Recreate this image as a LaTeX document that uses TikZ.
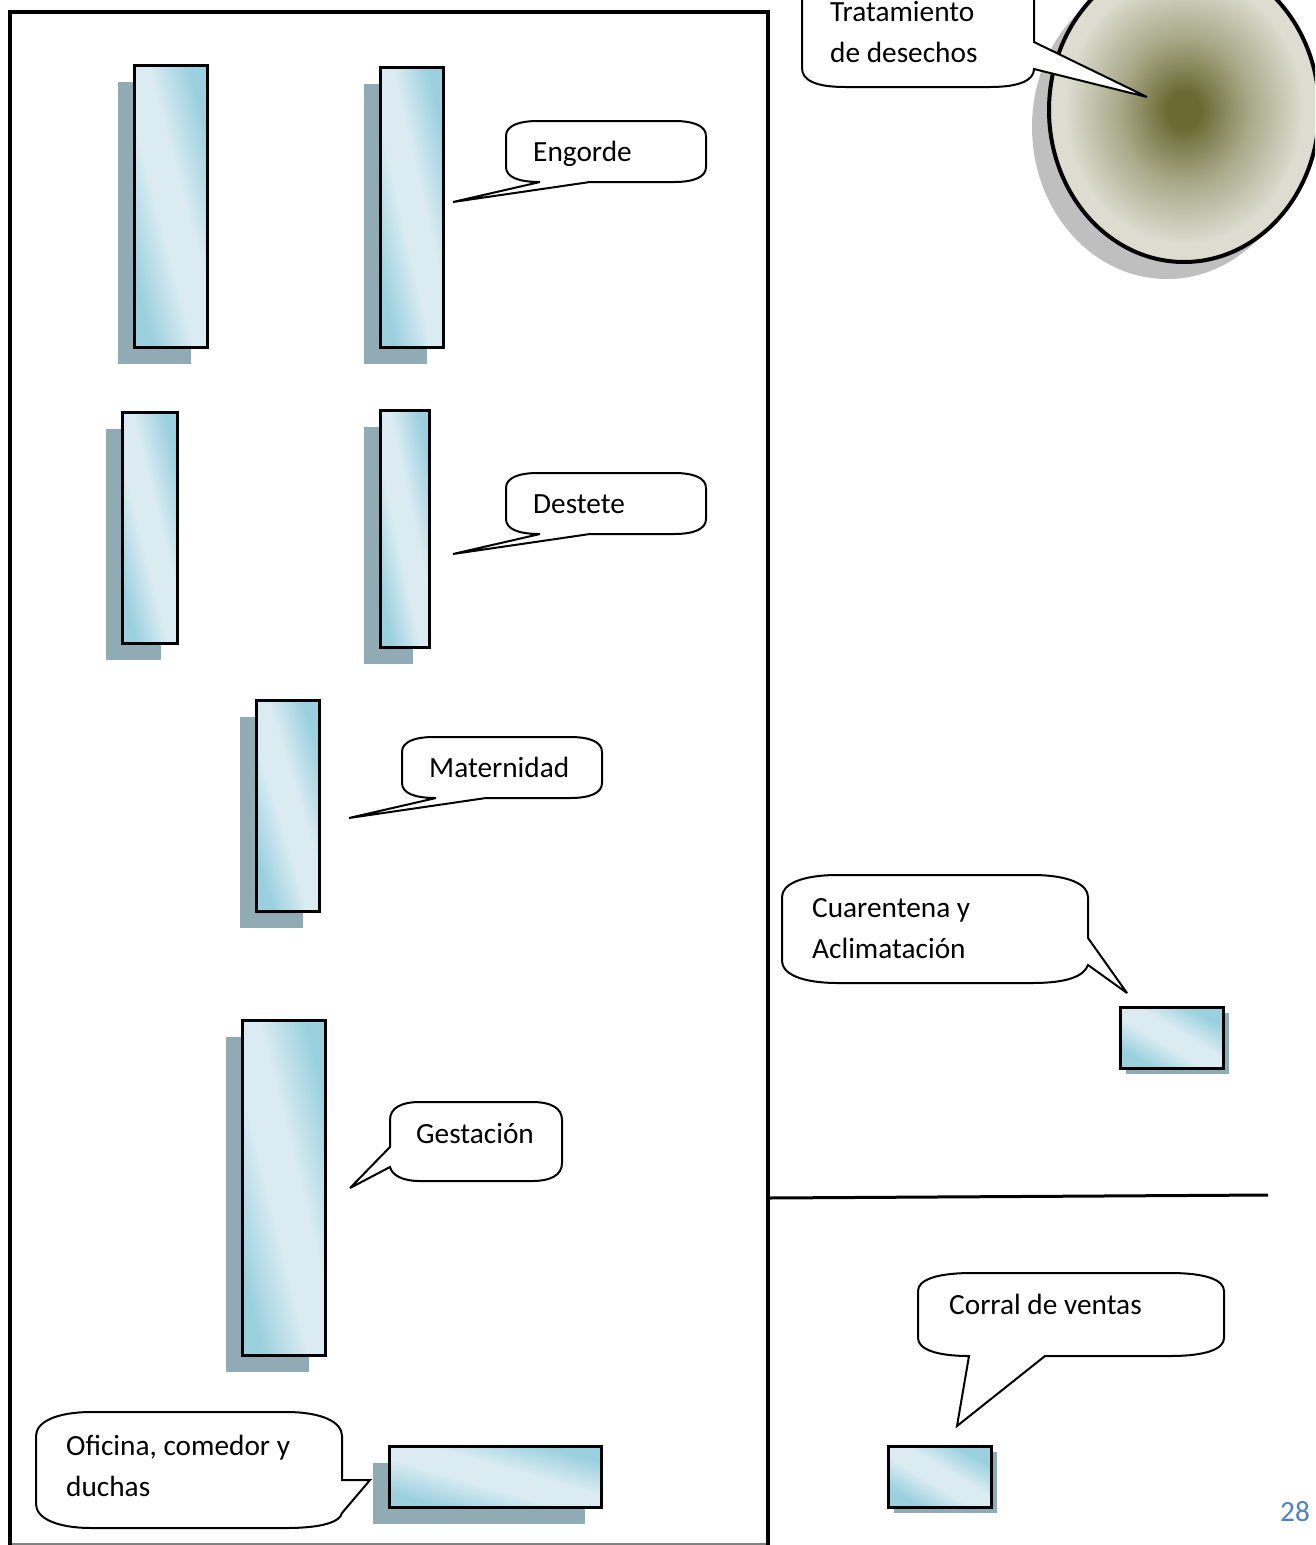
\documentclass[tikz,border=0pt]{standalone}
\usepackage{fontspec}
\setmainfont{Carlito}
\usetikzlibrary{shapes.geometric,shadows}
\definecolor{barblue}{HTML}{9BD0DF}
\definecolor{barlight}{HTML}{DAECF2}
\definecolor{barshadow}{HTML}{91ABB5}
\definecolor{pondmid}{HTML}{6B6A33}
\definecolor{pondrim}{HTML}{DCDCD0}
\definecolor{pondshadow}{HTML}{BFBFBF}
\definecolor{pagenum}{HTML}{4F81BD}
\pgfdeclareverticalshading{barshade}{100bp}{color(0bp)=(barblue); color(27bp)=(barblue); color(44bp)=(barlight); color(56bp)=(barlight); color(73bp)=(barblue); color(100bp)=(barblue)}
\pgfdeclareradialshading{pondshade}{\pgfpointorigin}{color(0bp)=(pondmid); color(3bp)=(pondmid); color(12bp)=(pondrim!55!pondmid); color(22bp)=(pondrim); color(50bp)=(pondrim)}
\tikzstyle{building} = [rectangle, draw=black, line width=3pt, shading=barshade, inner sep=0pt, outer sep=0pt]
\tikzstyle{leftshadow} = [general shadow={shadow xshift=-16.5pt, shadow yshift=-16.5pt, fill=barshadow}]
\tikzstyle{rightshadow} = [general shadow={shadow xshift=5pt, shadow yshift=-5pt, fill=barshadow}]
\tikzstyle{bubble} = [draw=black, line width=2pt, fill=white, line join=miter, miter limit=3]
\tikzstyle{label} = [inner sep=0pt, anchor=base west, align=left, font=\fontsize{29.3}{41}\selectfont]
\tikzstyle{wall} = [draw=black, line width=3.6pt]
\begin{document}
\begin{tikzpicture}[x=1pt, y=-1pt]
	
	\clip (0,0) rectangle (1315,1545);
	\fill[white] (0,0) rectangle (1315,1545);
	
	% walls
	\coordinate (wallA) at (10,1546);
	\coordinate (wallB) at (10,12);
	\coordinate (wallC) at (768,12);
	\coordinate (wallD) at (768,1546);
	\coordinate (fenceA) at (769,1198);
	\coordinate (fenceB) at (1268,1195);
	\draw[gray, line width=1.2pt] (wallA) ++(0,-2) -- ++(758,0);
	\draw[wall] (wallA) -- (wallB) -- (wallC) -- (wallD);
	\draw[draw=black, line width=3pt] (fenceA) -- (fenceB);
	
	% buildings
	\node (engordeA) [building, leftshadow, shading angle=-75, minimum width=73pt, minimum height=282pt] at (171,206.5) {};
	\node (engordeB) [building, leftshadow, shading angle=-77, minimum width=63pt, minimum height=280pt] at (412,207.5) {};
	\node (desteteA) [building, leftshadow, shading angle=-76, minimum width=55pt, minimum height=231pt] at (150,528) {};
	\node (desteteB) [building, leftshadow, shading angle=-78, minimum width=49pt, minimum height=237pt] at (405,529) {};
	\node (maternidad) [building, leftshadow, shading angle=-73, minimum width=63pt, minimum height=211pt] at (288,806) {};
	\node (gestacion) [building, leftshadow, shading angle=-76, minimum width=83pt, minimum height=335pt] at (284,1188) {};
	\node (oficina) [building, leftshadow, shading angle=-16, minimum width=212pt, minimum height=61pt] at (495.5,1477) {};
	\node (cuarentena) [building, rightshadow, shading angle=-31, minimum width=103pt, minimum height=61pt] at (1172,1038) {};
	\node (ventas) [building, rightshadow, shading angle=-31, minimum width=103pt, minimum height=61pt] at (940,1477) {};
	
	% pond
	\node (pond) [ellipse, draw=black, line width=4pt, shading=pondshade, minimum width=270pt, minimum height=304pt, inner sep=0pt,
		general shadow={shadow xshift=-17pt, shadow yshift=-17pt, fill=pondshadow}] at (1184,110) {};
	
	% speech bubbles
	\draw[bubble] (802,-20) -- (802,68) .. controls (802,80) and (815,87) .. (845,87) -- (990,87) .. controls (1020,87) and (1034,80) .. (1034,69) -- (1147,97) -- (1034,42) -- (1034,-20);
	\draw[bubble] (538,121) -- (674,121) .. controls (694,121) and (706,126) .. (706,136) -- (706,167) .. controls (706,177) and (694,182) .. (674,182) -- (590,182) -- (453,202) -- (540,182) .. controls (518,182) and (506,177) .. (506,167) -- (506,136) .. controls (506,126) and (518,121) .. (538,121) -- cycle;
	\draw[bubble] (538,473) -- (674,473) .. controls (694,473) and (706,478) .. (706,488) -- (706,519) .. controls (706,529) and (694,534) .. (674,534) -- (590,534) -- (453,554) -- (540,534) .. controls (518,534) and (506,529) .. (506,519) -- (506,488) .. controls (506,478) and (518,473) .. (538,473) -- cycle;
	\draw[bubble] (434,737) -- (570,737) .. controls (590,737) and (602,742) .. (602,752) -- (602,783) .. controls (602,793) and (590,798) .. (570,798) -- (486,798) -- (349,818) -- (436,798) .. controls (414,798) and (402,793) .. (402,783) -- (402,752) .. controls (402,742) and (414,737) .. (434,737) -- cycle;
	\draw[bubble] (420,1102) -- (532,1102) .. controls (551,1102) and (562,1108) .. (562,1120) -- (562,1163) .. controls (562,1175) and (551,1181) .. (532,1181) -- (420,1181) .. controls (402,1181) and (392,1175) .. (390,1167) -- (350,1188) -- (390,1147) -- (390,1120) .. controls (390,1108) and (401,1102) .. (420,1102) -- cycle;
	\draw[bubble] (92,1412) -- (286,1412) .. controls (322,1412) and (342,1422) .. (342,1436) -- (342,1480) -- (370,1480) -- (342,1513) .. controls (340,1522) and (322,1528) .. (286,1528) -- (92,1528) .. controls (56,1528) and (36,1518) .. (36,1504) -- (36,1436) .. controls (36,1422) and (56,1412) .. (92,1412) -- cycle;
	\draw[bubble] (838,875) -- (1032,875) .. controls (1068,875) and (1088,884) .. (1088,897) -- (1088,938) -- (1127,993) -- (1088,965) .. controls (1084,976) and (1068,983) .. (1032,983) -- (838,983) .. controls (802,983) and (782,974) .. (782,961) -- (782,897) .. controls (782,884) and (802,875) .. (838,875) -- cycle;
	\draw[bubble] (972,1273) -- (1170,1273) .. controls (1206,1273) and (1224,1280) .. (1224,1291) -- (1224,1338) .. controls (1224,1349) and (1206,1356) .. (1170,1356) -- (1045,1356) -- (957,1426) -- (969,1356) .. controls (936,1356) and (918,1349) .. (918,1338) -- (918,1291) .. controls (918,1280) and (936,1273) .. (972,1273) -- cycle;
	
	% labels
	\node (tratamientoText) [label] at (830,62) {Tratamiento\\de desechos};
	\node (engordeText) [label] at (533,161) {Engorde};
	\node (desteteText) [label] at (533,513) {Destete};
	\node (maternidadText) [label] at (429,777) {Maternidad};
	\node (gestacionText) [label] at (416,1143) {Gestación};
	\node (oficinaText) [label] at (66,1496) {Oficina, comedor y\\duchas};
	\node (cuarentenaText) [label] at (812,958) {Cuarentena y\\Aclimatación};
	\node (ventasText) [label] at (949,1314) {Corral de ventas};
	\node (pageText) [label, text=pagenum] at (1280,1521) {28};
	
\end{tikzpicture}
\end{document}
